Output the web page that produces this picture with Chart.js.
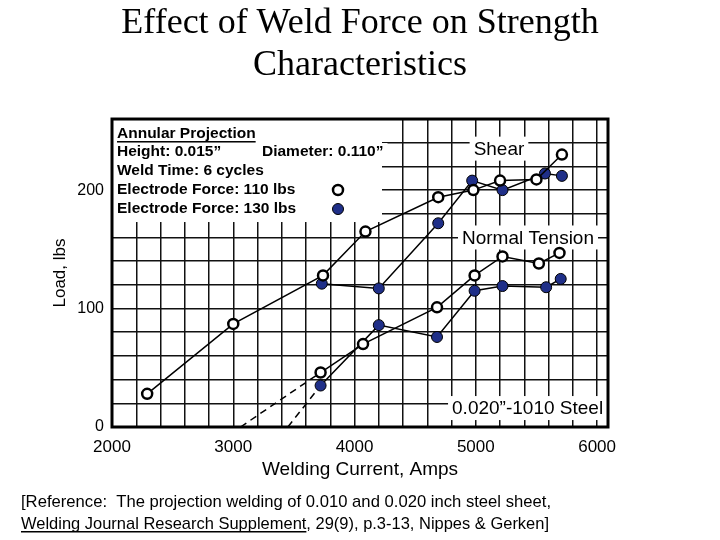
<!DOCTYPE html>
<html lang="en">
<head>
<meta charset="UTF-8" />
<script src="https://cdn.jsdelivr.net/npm/chart.js"></script>
<title>Effect of Weld Force</title>
<style>
  html, body { margin: 0; padding: 0; background: #fff; }
  #wrap { width: 720px; height: 540px; position: relative; }
</style>
</head>
<body>
<div id="wrap"><canvas id="weldChart"></canvas></div>
<script>
const xTickLabels = [2000, 3000, 4000, 5000, 6000];
const yTickLabels = [0, 100, 200];

// welding current (amps) / load (lbs)
const shear110Current = [2290, 3000, 3740, 4090, 4690, 4980, 5200, 5500, 5710];
const shear110Load = [28, 87, 128, 165, 194, 200, 208, 209, 230];
const shear130Current = [3730, 4200, 4690, 4970, 5220, 5570, 5710];
const shear130Load = [121, 117, 172, 208, 200, 214, 212];
const tension110Current = [3060, 3720, 4070, 4680, 4990, 5220, 5520, 5690];
const tension110Load = [0, 46, 70, 101, 128, 144, 138, 147];
const tension130Current = [3450, 3720, 4200, 4680, 4990, 5220, 5580, 5700];
const tension130Load = [0, 35, 86, 76, 115, 119, 118, 125];

const navy = "#1f2f88";
const sans = "'Liberation Sans', Arial, sans-serif";

function pts(xs, ys) {
  return xs.map((x, i) => ({ x: x, y: ys[i] }));
}

const openMarks = { pointRadius: 5, pointBackgroundColor: "#fff", pointBorderColor: "#000", pointBorderWidth: 2.5 };
const filledMarks = { pointRadius: 5.5, pointBackgroundColor: navy, pointBorderColor: "#000", pointBorderWidth: 1 };
// extrapolated part down to zero load is dashed, without a marker
const dashedStart = {
  segment: { borderDash: c => (c.p0DataIndex === 0 ? [7, 5] : undefined) },
  pointRadius: c => (c.dataIndex === 0 ? 0 : 5.5),
};

const notesPlugin = {
  id: "notes",
  beforeDatasetsDraw(chart) {
    const { ctx, chartArea: a, scales } = chart;
    const x = scales.x, y = scales.y;
    ctx.save();

    // legend block, top left
    ctx.fillStyle = "#fff";
    ctx.fillRect(a.left, a.top, 270, 103);
    ctx.font = "bold 15.5px " + sans;
    ctx.textBaseline = "middle";
    ctx.textAlign = "left";
    const rows = [
      ["Annular Projection", 15],
      ["Height: 0.015\u201d", 33],
      ["Weld Time: 6 cycles", 52],
      ["Electrode Force: 110 lbs", 71],
      ["Electrode Force: 130 lbs", 90],
    ];
    rows.forEach(r => {
      ctx.fillStyle = "#000";
      ctx.fillText(r[0], a.left + 5, a.top + r[1]);
    });
    const dia = "Diameter: 0.110\u201d";
    const dw = ctx.measureText(dia).width;
    ctx.fillStyle = "#fff";
    ctx.fillRect(a.left + 148, a.top + 24, dw + 6, 18);
    ctx.fillStyle = "#000";
    ctx.fillText(dia, a.left + 150, a.top + 33);
    const uw = ctx.measureText("Annular Projection").width;
    ctx.fillRect(a.left + 5, a.top + 22, uw, 1.5);

    const ds = chart.data.datasets;
    [[0, 71, 5], [1, 90, 5.5]].forEach(m => {
      const d = ds[m[0]];
      ctx.beginPath();
      ctx.arc(a.left + 226, a.top + m[1], m[2], 0, Math.PI * 2);
      ctx.fillStyle = d.pointBackgroundColor;
      ctx.fill();
      ctx.lineWidth = d.pointBorderWidth;
      ctx.strokeStyle = d.pointBorderColor;
      ctx.stroke();
    });

    // curve labels, placed in data units
    ctx.font = "19px " + sans;
    const labels = [
      ["Shear", 5191, 235, "center"],
      ["Normal Tension", 4886, 160, "left"],
      ["0.020\u201d-1010 Steel", 4804, 16, "left"],
    ];
    labels.forEach(l => {
      const px = x.getPixelForValue(l[1]);
      const py = y.getPixelForValue(l[2]);
      const w = ctx.measureText(l[0]).width;
      const left = l[3] === "center" ? px - w / 2 : px;
      ctx.fillStyle = "#fff";
      ctx.fillRect(left - 4, py - 12, w + 8, 24);
      ctx.fillStyle = "#000";
      ctx.textAlign = l[3];
      ctx.fillText(l[0], px, py + 1);
    });

    ctx.lineWidth = 3;
    ctx.strokeStyle = "#000";
    ctx.strokeRect(a.left, a.top, a.right - a.left, a.bottom - a.top);
    ctx.restore();
  },
  afterDraw(chart) {
    const ctx = chart.ctx;
    ctx.save();
    ctx.font = "17px " + sans;
    ctx.fillStyle = "#000";
    ctx.textAlign = "left";
    ctx.textBaseline = "alphabetic";
    const line1 = "[Reference:  The projection welding of 0.010 and 0.020 inch steel sheet,";
    const line2 = "Welding Journal Research Supplement, 29(9), p.3-13, Nippes & Gerken]";
    ctx.fillText(line1, 21, 507, 530);
    const w2 = ctx.measureText(line2).width;
    const k = Math.min(1, 528 / w2);
    ctx.fillText(line2, 21, 529, 528);
    const uw = ctx.measureText("Welding Journal Research Supplement").width * k;
    ctx.fillRect(21, 531, uw, 1.5);
    ctx.restore();
  },
};

new Chart(document.getElementById("weldChart"), {
  type: "line",
  data: {
    datasets: [
      Object.assign({ label: "Shear 110 lbs", data: pts(shear110Current, shear110Load) }, openMarks),
      Object.assign({ label: "Shear 130 lbs", data: pts(shear130Current, shear130Load) }, filledMarks),
      Object.assign({ label: "Tension 110 lbs", data: pts(tension110Current, tension110Load) }, openMarks, dashedStart,
        { pointRadius: c => (c.dataIndex === 0 ? 0 : 5) }),
      Object.assign({ label: "Tension 130 lbs", data: pts(tension130Current, tension130Load) }, filledMarks, dashedStart),
    ].map(d => Object.assign({ borderColor: "#000", borderWidth: 1.5, fill: false, tension: 0 }, d)),
  },
  options: {
    responsive: true,
    maintainAspectRatio: false,
    animation: false,
    events: [],
    layout: { padding: { left: 0, right: 0, top: 0, bottom: 53 } },
    plugins: {
      legend: { display: false },
      tooltip: { enabled: false },
      title: {
        display: true,
        text: ["Effect of Weld Force on Strength", "Characteristics"],
        color: "#000",
        font: { family: "'Liberation Serif', 'Times New Roman', serif", size: 36, weight: "normal", lineHeight: 1.167 },
        padding: { top: 3, bottom: 32 },
      },
    },
    scales: {
      x: {
        type: "linear",
        min: 2000,
        max: 6090,
        afterFit: s => { s.height = 60; },
        grid: { color: "#111", lineWidth: 1.5, drawTicks: false },
        border: { display: false },
        ticks: {
          stepSize: 200,
          includeBounds: false,
          autoSkip: false,
          maxRotation: 0,
          padding: 10,
          color: "#000",
          font: { family: sans, size: 17 },
          callback: v => (xTickLabels.includes(v) ? String(v) : ""),
        },
        title: {
          display: true,
          text: "Welding Current, Amps",
          color: "#000",
          font: { family: sans, size: 19, lineHeight: 1.2 },
          padding: { top: 0, bottom: 5.6 },
        },
      },
      y: {
        min: 0,
        max: 260,
        afterFit: s => { s.width = 112; },
        grid: { color: "#111", lineWidth: 1.5, drawTicks: false },
        border: { display: false },
        ticks: {
          stepSize: 20,
          autoSkip: false,
          padding: 8,
          color: "#000",
          font: { family: sans, size: 16 },
          callback: v => (yTickLabels.includes(v) ? String(v) : ""),
        },
        title: {
          display: true,
          text: "Load, lbs",
          color: "#000",
          font: { family: sans, size: 17, lineHeight: 1.2 },
          padding: { top: 49.8, bottom: 0 },
        },
      },
      // empty right margin so the title stays centred on the page
      yMargin: {
        position: "right",
        afterFit: s => { s.width = 112; },
        grid: { display: false },
        border: { display: false },
        ticks: { display: false },
      },
    },
  },
  plugins: [notesPlugin],
});
</script>
</body>
</html>
